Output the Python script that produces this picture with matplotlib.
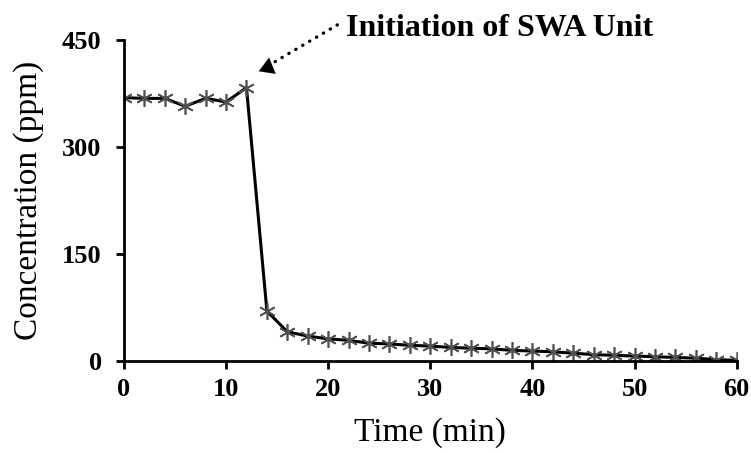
import matplotlib
matplotlib.use('Agg')
import matplotlib.pyplot as plt

plt.rcParams['font.family'] = ['Liberation Serif', 'DejaVu Serif']

time_min = [0, 2, 4, 6, 8, 10, 12, 14, 16, 18, 20, 22, 24, 26, 28, 30,
            32, 34, 36, 38, 40, 42, 44, 46, 48, 50, 52, 54, 56, 58, 60]
conc_ppm = [369, 368, 368, 357, 368, 363, 383, 70, 41, 35, 31, 29, 25, 24, 22, 21,
            19, 18, 17, 15, 14, 13, 11, 9, 8, 7, 6, 5, 4, 2, 1]
x_ticks = [0, 10, 20, 30, 40, 50, 60]
y_ticks = [0, 150, 300, 450]

note_text = 'Initiation of SWA Unit'
note_tip = (13.2, 406)
note_start = (20.9, 471)

fig = plt.figure(figsize=(7.51, 4.53), dpi=100)
ax = fig.add_axes([0.165, 0.203, 0.816, 0.709])

ax.plot(time_min, conc_ppm, color='black', linewidth=2.2,
        marker=(6, 2, 0), markersize=12, markeredgecolor='#505050',
        markeredgewidth=1.2)

ax.set_xlim(0, 60)
ax.set_ylim(0, 450)
ax.set_xticks(x_ticks)
ax.set_yticks(y_ticks)
for s in ['top', 'right']:
    ax.spines[s].set_visible(False)
for s in ['left', 'bottom']:
    ax.spines[s].set_linewidth(2)
ax.tick_params(direction='out', length=6, width=2, labelsize=19)
ax.tick_params(axis='y', pad=10)
ax.tick_params(axis='x', pad=6)
for lab in ax.get_xticklabels() + ax.get_yticklabels():
    lab.set_fontweight('bold')

ax.set_xlabel('Time (min)', fontsize=24, labelpad=12)
ax.set_ylabel('Concentration (ppm)', fontsize=24, labelpad=13)

# text
ax.text(note_start[0] + 0.8, note_start[1] - 5, note_text, fontsize=23,
        fontweight='bold', ha='left', va='center', clip_on=False)
# dotted leader
ax.annotate('', xy=note_tip, xytext=note_start, annotation_clip=False,
            arrowprops=dict(arrowstyle='-', linestyle=(0, (0.1, 2.3)),
                            color='black', linewidth=2.4, capstyle='round',
                            shrinkA=0, shrinkB=8))
# solid head
ax.annotate('', xy=note_tip, xytext=(note_tip[0] + 1.2, note_tip[1] + 7),
            annotation_clip=False,
            arrowprops=dict(arrowstyle='-|>,head_length=0.75,head_width=0.45',
                            color='black', linewidth=0.1, mutation_scale=14,
                            shrinkA=0, shrinkB=0))

fig.savefig('out.png', dpi=100)
